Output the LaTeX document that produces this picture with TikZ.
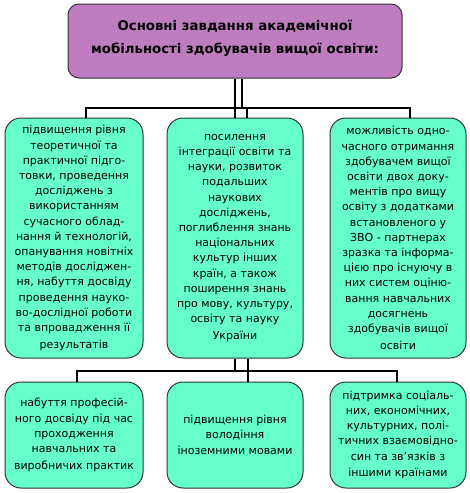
\documentclass[tikz,border=0pt]{standalone}
\usepackage{fontspec}
\setmainfont{DejaVu Sans}
\definecolor{headviolet}{RGB}{192,124,192}
\definecolor{taskgreen}{RGB}{102,255,204}

\begin{document}
\begin{tikzpicture}[x=1pt,y=-1pt,font=\fontsize{11}{15.2}\selectfont,
  head/.style={draw=black!80,line width=1pt,rounded corners=11pt,fill=headviolet,align=center,
    minimum width=334pt,minimum height=74pt,inner sep=0pt,font=\bfseries\fontsize{13.3}{23}\selectfont},
  task/.style={draw=black!80,line width=1pt,rounded corners=16pt,fill=taskgreen,align=center,
    minimum width=138pt,inner sep=0pt},
  link/.style={line width=1.4pt}]
  \useasboundingbox (0,0) rectangle (470,493);
  % heading
  \node[head] (head) at (235,41) {Основні завдання академічної\\мобільності здобувачів вищої освіти:\\[-14pt]};
  % middle row
  \node[task,minimum height=240pt] (m1) at (74,238) {підвищення рівня\\теоретичної та\\практичної підго-\\товки, проведення\\досліджень з\\використанням\\сучасного облад-\\нання й технологій,\\опанування новітніх\\методів досліджен-\\ня, набуття досвіду\\проведення науко-\\во-дослідної роботи\\та впровадження її\\[1.5pt]результатів};
  \node[task,minimum height=240pt,minimum width=136pt] (m2) at (235,238) {посилення\\інтеграції освіти та\\науки, розвиток\\подальших\\наукових\\досліджень,\\поглиблення знань\\національних\\культур інших\\країн, а також\\поширення знань\\про мову, культуру,\\освіту та науку\\[1.5pt]України};
  \node[task,minimum height=240pt,minimum width=136pt] (m3) at (398,238) {можливість одно-\\часного отримання\\здобувачем вищої\\освіти двох доку-\\ментів про вищу\\освіту з додатками\\встановленого у\\ЗВО - партнерах\\зразка та інформа-\\цією про існуючу в\\них систем оціню-\\вання навчальних\\досягнень\\здобувачів вищої\\[1.5pt]освіти};
  % bottom row
  \node[task,minimum height=106pt] (b1) at (74,435) {набуття професій-\\ного досвіду під час\\проходження\\навчальних та\\[1.5pt]виробничих практик};
  \node[task,minimum height=106pt,minimum width=136pt] (b2) at (235,435) {підвищення рівня\\володіння\\[1pt]іноземними мовами};
  \node[task,minimum height=106pt,minimum width=136pt] (b3) at (398,435) {підтримка соціаль-\\них, економічних,\\культурних, полі-\\тичних взаємовідно-\\син та зв’язків з\\[1.5pt]іншими країнами};
  % upper connectors
  \coordinate (busAL) at (86,108);
  \coordinate (busAR) at (410,108);
  \draw[link] (busAL |- m1.north) -- (busAL) -- (busAR) -- (busAR |- m3.north);
  \draw[link] (head.south) -- (m2.north);
  \draw[link] ([xshift=7pt]head.south) -- ([xshift=7pt]head.south |- busAL) -| ([xshift=12pt]m2.north);
  % lower connectors
  \coordinate (busBL) at (77,371);
  \coordinate (busBR) at (397,371);
  \draw[link] (busBL |- b1.north) -- (busBL) -- (busBR) -- (busBR |- b3.north);
  \draw[link] (m2.south) -- (m2.south |- busBL);
  \draw[link] ([xshift=13pt]m2.south) -- ([xshift=13pt]b2.north);
\end{tikzpicture}
\end{document}
